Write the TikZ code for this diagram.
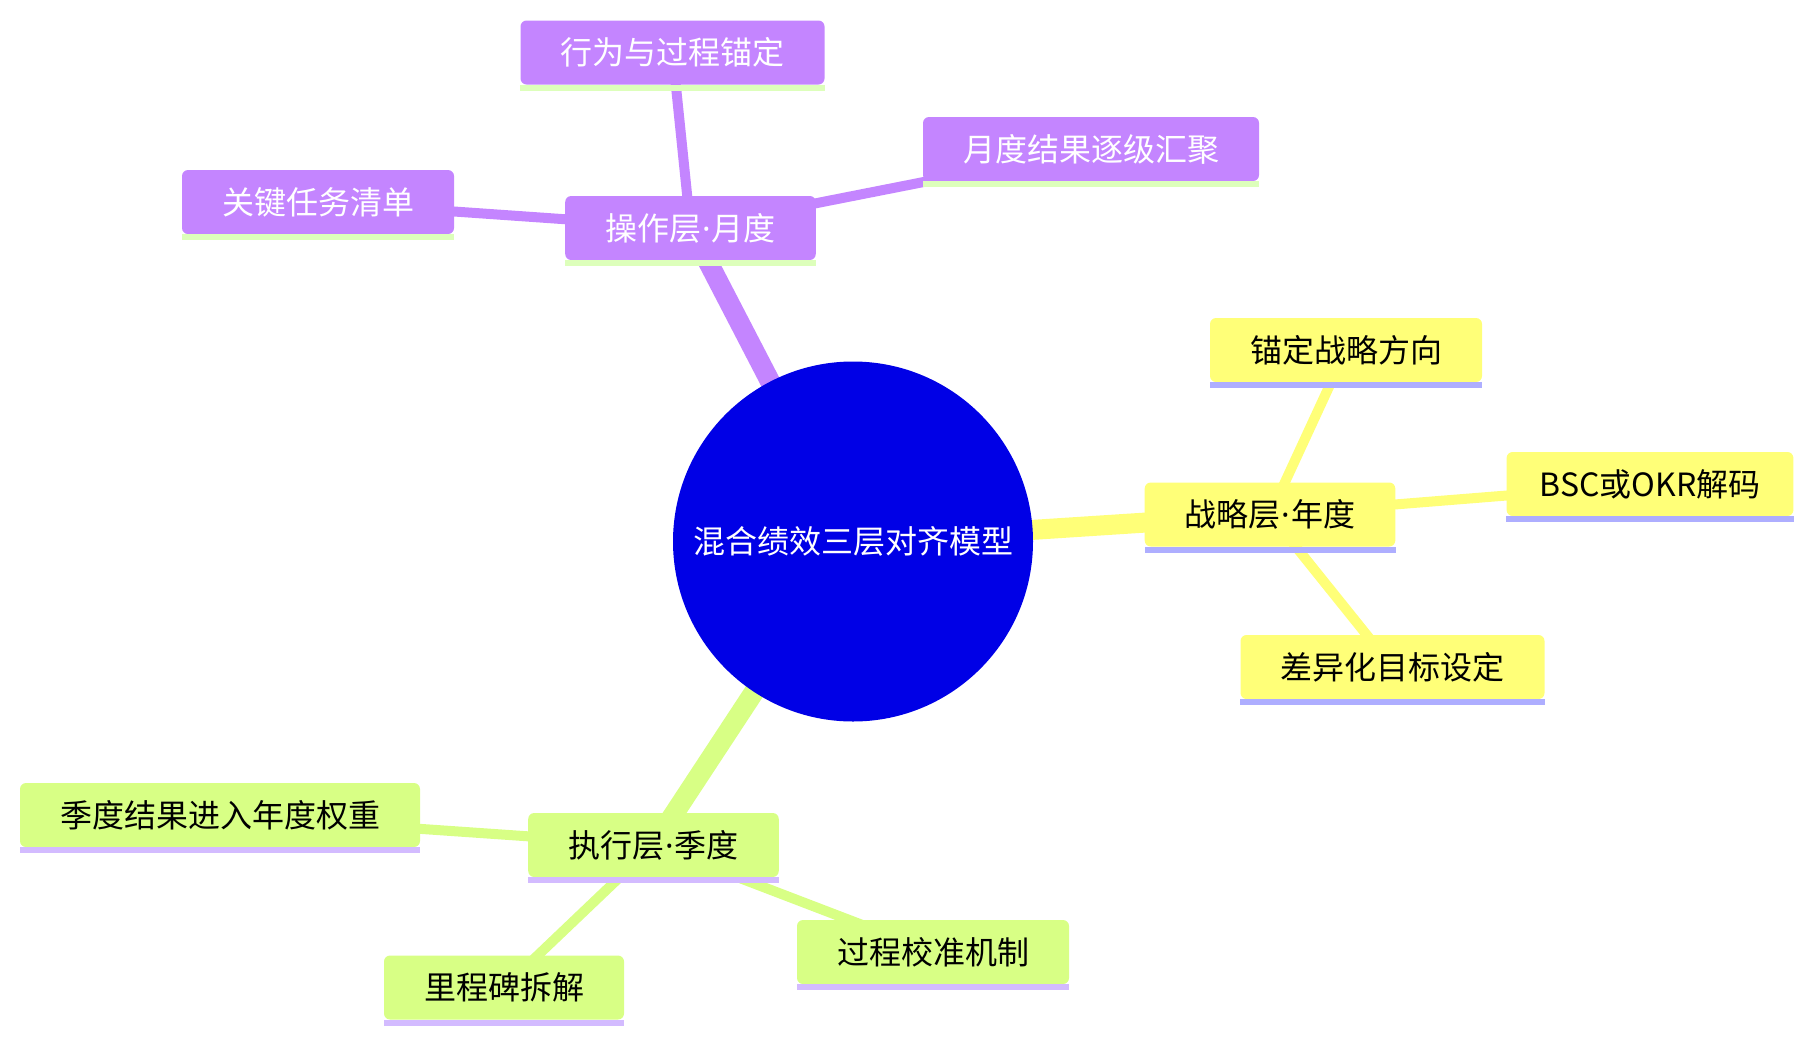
\documentclass[tikz,border=0pt]{standalone}
\usepackage{fontspec}
\setmainfont{Noto Sans CJK SC}
\newfontfamily\dotfont{Noto Sans}
\usepackage{xcolor}
\usetikzlibrary{backgrounds}

\definecolor{rootblue}{HTML}{0000E6}
\definecolor{opfill}{HTML}{C485FF}
\definecolor{opline}{HTML}{DDFFBB}
\definecolor{stfill}{HTML}{FFFF78}
\definecolor{stline}{HTML}{AEAEFF}
\definecolor{exfill}{HTML}{D8FF85}
\definecolor{exline}{HTML}{D3BBFF}
\newcommand{\middot}{{\dotfont\kern1pt·\kern1pt}}

\begin{document}
\begin{tikzpicture}[x=1pt, y=-1pt, every node/.style={font=\fontsize{32}{38}\selectfont},
  box/.style={rounded corners=6pt, inner xsep=40pt, inner ysep=0pt, minimum height=64pt},
  opbox/.style={box, fill=opfill, text=white},
  stbox/.style={box, fill=stfill, text=black},
  exbox/.style={box, fill=exfill, text=black},
  trunk/.style={line width=20pt},
  twig/.style={line width=10pt}]
  \useasboundingbox (0,0) rectangle (1813,1042);

  \node[circle, fill=rootblue, text=white, minimum size=360pt, inner sep=0pt] (root) at (853,541.5) {混合绩效三层对齐模型};

  % operating layer
  \node[opbox] (op) at (690.5,228) {操作层\middot 月度};
  \node[opbox] (op1) at (672.5,52.5) {行为与过程锚定};
  \node[opbox] (op2) at (1091,149) {月度结果逐级汇聚};
  \node[opbox] (op3) at (318,202) {关键任务清单};

  % strategic layer
  \node[stbox] (st) at (1270,514.5) {战略层\middot 年度};
  \node[stbox] (st1) at (1346,350) {锚定战略方向};
  \node[stbox, inner xsep=33pt] (st2) at (1650,484) {BSC或OKR解码};
  \node[stbox] (st3) at (1392.5,667) {差异化目标设定};

  % execution layer
  \node[exbox] (ex) at (653.5,845) {执行层\middot 季度};
  \node[exbox] (ex1) at (220,815) {季度结果进入年度权重};
  \node[exbox] (ex2) at (504,987.5) {里程碑拆解};
  \node[exbox] (ex3) at (933,952) {过程校准机制};

  \foreach \n/\c in {op/opline, op1/opline, op2/opline, op3/opline,
                     st/stline, st1/stline, st2/stline, st3/stline,
                     ex/exline, ex1/exline, ex2/exline, ex3/exline}
    \fill[\c] (\n.south west) rectangle ([yshift=-6pt]\n.south east);

  \begin{scope}[on background layer]
    \draw[trunk, opfill] (root.center) -- (op.center);
    \draw[twig, opfill] (op.center) -- (op1.center);
    \draw[twig, opfill] (op.center) -- (op2.center);
    \draw[twig, opfill] (op.center) -- (op3.center);
    \draw[trunk, stfill] (root.center) -- (st.center);
    \draw[twig, stfill] (st.center) -- (st1.center);
    \draw[twig, stfill] (st.center) -- (st2.center);
    \draw[twig, stfill] (st.center) -- (st3.center);
    \draw[trunk, exfill] (root.center) -- (ex.center);
    \draw[twig, exfill] (ex.center) -- (ex1.center);
    \draw[twig, exfill] (ex.center) -- (ex2.center);
    \draw[twig, exfill] (ex.center) -- (ex3.center);
  \end{scope}
\end{tikzpicture}
\end{document}
